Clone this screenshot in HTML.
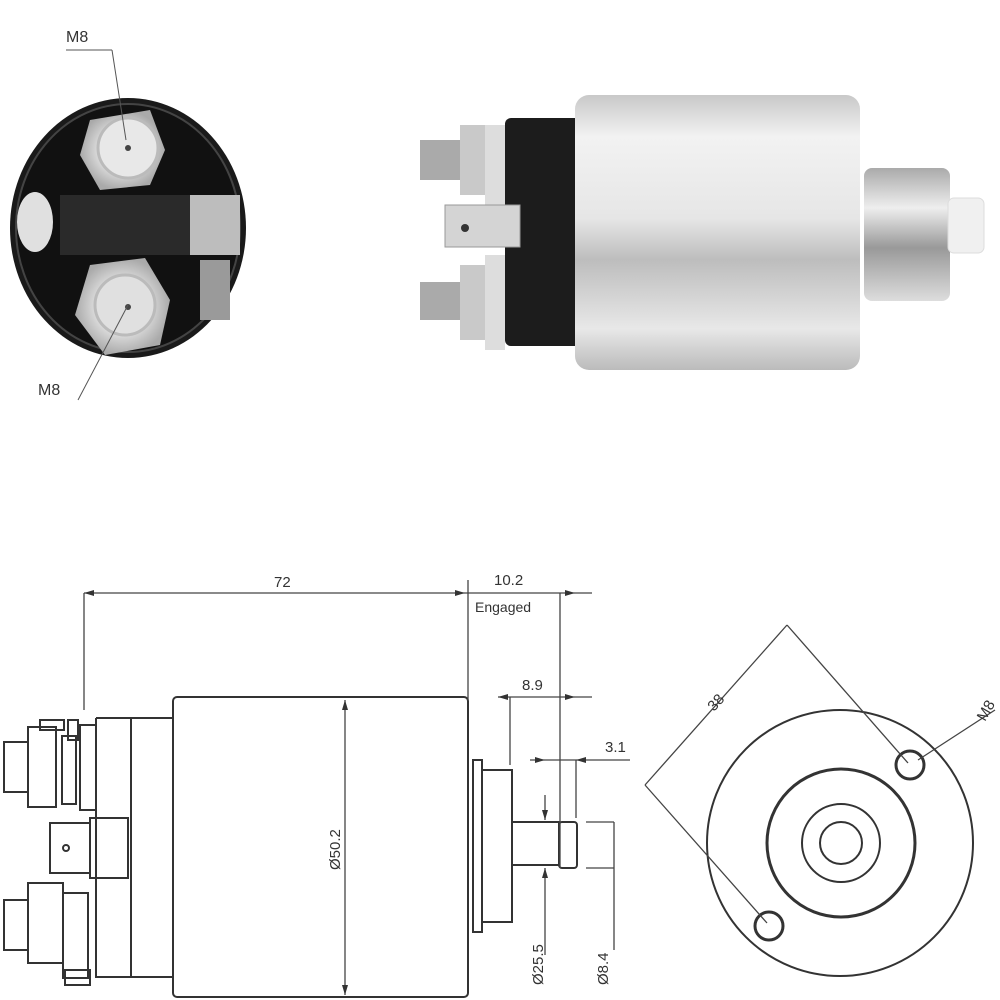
<!DOCTYPE html>
<html><head><style>
html,body{margin:0;padding:0;background:#fff;}
svg{display:block;}
text{font-family:"Liberation Sans",sans-serif;fill:#333;}
</style></head><body>
<svg width="1000" height="1000" viewBox="0 0 1000 1000" xmlns="http://www.w3.org/2000/svg">
<defs>
<linearGradient id="cyl" x1="0" y1="0" x2="0" y2="1">
<stop offset="0" stop-color="#c8c8c8"/><stop offset="0.15" stop-color="#f2f2f2"/><stop offset="0.45" stop-color="#e6e6e6"/><stop offset="0.6" stop-color="#bdbdbd"/><stop offset="0.85" stop-color="#e8e8e8"/><stop offset="1" stop-color="#bbb"/>
</linearGradient>
<linearGradient id="plg" x1="0" y1="0" x2="0" y2="1">
<stop offset="0" stop-color="#aaa"/><stop offset="0.3" stop-color="#eee"/><stop offset="0.6" stop-color="#999"/><stop offset="1" stop-color="#ddd"/>
</linearGradient>
<radialGradient id="nut"><stop offset="0" stop-color="#f5f5f5"/><stop offset="0.6" stop-color="#d8d8d8"/><stop offset="1" stop-color="#aaa"/></radialGradient>
</defs>

<!-- Left end view photo -->
<ellipse cx="128" cy="228" rx="118" ry="130" fill="#1a1a1a"/>
<ellipse cx="128" cy="228" rx="112" ry="124" fill="#111" stroke="#444" stroke-width="2"/>
<rect x="60" y="195" width="150" height="60" fill="#2a2a2a"/>
<ellipse cx="35" cy="222" rx="18" ry="30" fill="#e0e0e0"/>
<path d="M90,120 L150,110 L165,150 L150,185 L100,190 L80,155 Z" fill="url(#nut)"/>
<circle cx="128" cy="148" r="30" fill="#e8e8e8" stroke="#bbb" stroke-width="3"/>
<circle cx="128" cy="148" r="3" fill="#444"/>
<path d="M90,265 L145,258 L170,300 L160,345 L105,355 L75,315 Z" fill="url(#nut)"/>
<circle cx="125" cy="305" r="30" fill="#e0e0e0" stroke="#bbb" stroke-width="3"/>
<circle cx="128" cy="307" r="3" fill="#444"/>
<rect x="190" y="195" width="50" height="60" fill="#bdbdbd"/>
<rect x="200" y="260" width="30" height="60" fill="#9a9a9a"/>
<text x="66" y="42" font-size="16">M8</text>
<line x1="66" y1="50" x2="112" y2="50" stroke="#555"/>
<line x1="112" y1="50" x2="126" y2="140" stroke="#555"/>
<text x="38" y="395" font-size="16">M8</text>
<line x1="78" y1="400" x2="128" y2="305" stroke="#555"/>

<!-- Right side photo -->
<rect x="505" y="118" width="80" height="228" rx="6" fill="#1c1c1c"/>
<rect x="575" y="95" width="285" height="275" rx="14" fill="url(#cyl)"/>
<rect x="864" y="168" width="86" height="133" rx="8" fill="url(#plg)"/>
<rect x="948" y="198" width="36" height="55" rx="6" fill="#f0f0f0" stroke="#ddd"/>
<rect x="420" y="140" width="45" height="40" fill="#aaa"/>
<rect x="460" y="125" width="40" height="70" fill="#c9c9c9"/>
<rect x="485" y="125" width="20" height="85" fill="#ddd"/>
<rect x="445" y="205" width="75" height="42" fill="#d4d4d4" stroke="#999"/>
<circle cx="465" cy="228" r="4" fill="#333"/>
<rect x="420" y="282" width="45" height="38" fill="#aaa"/>
<rect x="460" y="265" width="40" height="75" fill="#c9c9c9"/>
<rect x="485" y="255" width="20" height="95" fill="#ddd"/>

<!-- Technical drawing side view -->
<g stroke="#333" stroke-width="2" fill="none">
<rect x="173" y="697" width="295" height="300" rx="4"/>
<polyline points="96,718 96,977 173,977"/>
<polyline points="96,718 131,718 131,977"/>
<line x1="131" y1="718" x2="173" y2="718"/>
<rect x="473" y="760" width="9" height="172"/>
<rect x="482" y="770" width="30" height="152"/>
<rect x="512" y="822" width="47" height="43"/>
<rect x="559" y="822" width="18" height="46" rx="3"/>
<!-- terminals -->
<rect x="28" y="727" width="28" height="80"/>
<rect x="40" y="720" width="24" height="10"/>
<rect x="4" y="742" width="24" height="50"/>
<rect x="62" y="736" width="14" height="68"/>
<rect x="68" y="720" width="10" height="20"/>
<rect x="80" y="725" width="16" height="85"/>
<rect x="50" y="823" width="40" height="50"/>
<rect x="90" y="818" width="38" height="60"/>
<rect x="28" y="883" width="35" height="80"/>
<rect x="4" y="900" width="24" height="50"/>
<rect x="63" y="893" width="25" height="85"/>
<rect x="65" y="970" width="25" height="15"/>
<circle cx="66" cy="848" r="3"/>
</g>
<g stroke="#444" stroke-width="1.3">
<line x1="84" y1="593" x2="465" y2="593"/>
<line x1="84" y1="593" x2="84" y2="710"/>
<line x1="468" y1="580" x2="468" y2="700"/>
<line x1="465" y1="593" x2="592" y2="593"/>
<line x1="560" y1="593" x2="560" y2="868"/>
<line x1="498" y1="697" x2="592" y2="697"/>
<line x1="510" y1="697" x2="510" y2="765"/>
<line x1="530" y1="760" x2="630" y2="760"/>
<line x1="576" y1="760" x2="576" y2="818"/>
<line x1="345" y1="700" x2="345" y2="995"/>
<line x1="545" y1="795" x2="545" y2="820"/>
<line x1="545" y1="868" x2="545" y2="955"/>
<line x1="586" y1="822" x2="614" y2="822"/>
<line x1="586" y1="868" x2="614" y2="868"/>
<line x1="614" y1="822" x2="614" y2="950"/>
</g>
<g fill="#333">
<path d="M84,593 l10,-3 v6z"/><path d="M465,593 l-10,-3 v6z"/>
<path d="M575,593 l-10,-3 v6z"/><path d="M498,697 l10,-3 v6z"/><path d="M575,697 l-10,-3 v6z"/>
<path d="M545,760 l-10,-3 v6z"/><path d="M576,760 l10,-3 v6z"/>
<path d="M345,700 l-3,10 h6z"/><path d="M345,995 l-3,-10 h6z"/>
<path d="M545,820 l-3,-10 h6z"/><path d="M545,868 l-3,10 h6z"/>
</g>
<text x="274" y="587" font-size="15">72</text>
<text x="494" y="585" font-size="15">10.2</text>
<text x="475" y="612" font-size="14">Engaged</text>
<text x="522" y="690" font-size="15">8.9</text>
<text x="605" y="752" font-size="15">3.1</text>
<text font-size="15" transform="translate(340,870) rotate(-90)">Ø50.2</text>
<text font-size="15" transform="translate(543,985) rotate(-90)">Ø25.5</text>
<text font-size="15" transform="translate(608,985) rotate(-90)">Ø8.4</text>

<!-- End view drawing -->
<g stroke="#333" stroke-width="2" fill="none">
<circle cx="840" cy="843" r="133"/>
<circle cx="841" cy="843" r="74" stroke-width="3"/>
<circle cx="841" cy="843" r="39"/>
<circle cx="841" cy="843" r="21"/>
<circle cx="910" cy="765" r="14" stroke-width="3"/>
<circle cx="769" cy="926" r="14" stroke-width="3"/>
</g>
<g stroke="#444" stroke-width="1.3">
<line x1="645" y1="785" x2="787" y2="625"/>
<line x1="787" y1="625" x2="908" y2="763"/>
<line x1="645" y1="785" x2="767" y2="923"/>
<line x1="918" y1="760" x2="995" y2="710"/>
</g>
<text font-size="15" transform="translate(714,712) rotate(-48)">38</text>
<text font-size="15" transform="translate(985,722) rotate(-60)">M8</text>
</svg>
</body></html>
